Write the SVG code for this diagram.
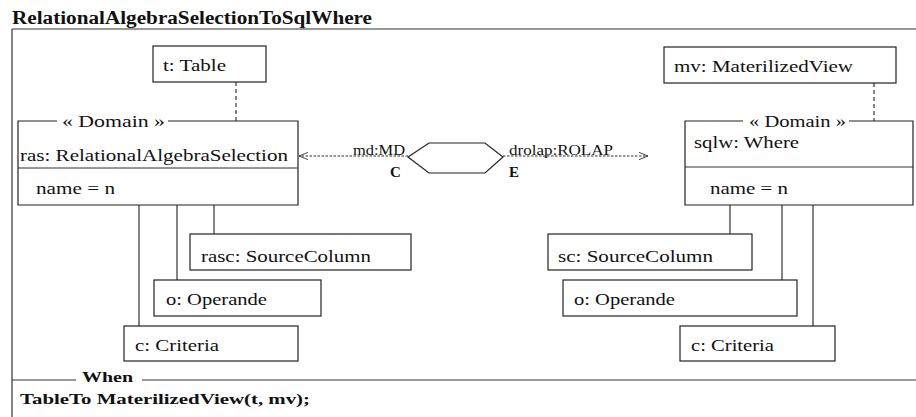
<svg xmlns="http://www.w3.org/2000/svg" width="916" height="417" viewBox="0 0 916 417">
<defs>
<style>
.t{font-family:"Liberation Serif","Times New Roman",serif;font-size:17px;fill:#111}
.b{font-family:"Liberation Serif","Times New Roman",serif;font-weight:bold;fill:#111}
.s{font-family:"Liberation Serif","Times New Roman",serif;font-size:15px;fill:#111}
.box{fill:#fff;stroke:#222;stroke-width:1.2}
.ln{fill:none;stroke:#333;stroke-width:1.2}
.dash{fill:none;stroke:#333;stroke-width:1.2;stroke-dasharray:4,3}
.dot{fill:none;stroke:#333;stroke-width:1;stroke-dasharray:2.5,1.5}
.arr{fill:none;stroke:#333;stroke-width:1}
</style>
<marker id="open" viewBox="0 0 10 10" refX="10" refY="5" markerWidth="9" markerHeight="9" orient="auto-start-reverse" markerUnits="userSpaceOnUse">
<path d="M0,1 L10,5 L0,9" class="arr"/>
</marker>
</defs>
<rect width="916" height="417" fill="#fff"/>
<g id="frame">
<text class="b" x="12" y="24" font-size="18" textLength="360" lengthAdjust="spacingAndGlyphs">RelationalAlgebraSelectionToSqlWhere</text>
<path class="ln" d="M12,29 H916 M12,29 V417"/>
<path class="ln" d="M12,380 H76 M142,380 H916"/>
<text class="b" x="82" y="382" font-size="14" textLength="51" lengthAdjust="spacingAndGlyphs">When</text>
<text class="b" x="20" y="404" font-size="15" textLength="290" lengthAdjust="spacingAndGlyphs">TableTo MaterilizedView(t, mv);</text>
</g>
<g id="connectors">
<path class="dash" d="M236,82 V121"/>
<path class="dash" d="M874,83 V121"/>
<path class="ln" d="M214,205 V234 M177,205 V280 M139,205 V326"/>
<path class="ln" d="M730,205 V234 M782,205 V280 M813,205 V326"/>
<path class="dot" d="M408,156 H299" marker-end="url(#open)"/>
<path class="dot" d="M503,156 H648" marker-end="url(#open)"/>
<text class="s" x="353" y="155" textLength="52" lengthAdjust="spacingAndGlyphs">md:MD</text>
<text class="s" x="509" y="155" textLength="104" lengthAdjust="spacingAndGlyphs">drolap:ROLAP</text>
</g>
<g id="hexagon">
<polygon class="box" points="408,157 429,143 485,143 503,157 485,173 429,173"/>
<text class="b" x="390" y="177" font-size="15">C</text>
<text class="b" x="509" y="177" font-size="15">E</text>
</g>
<g id="table">
<rect class="box" x="153" y="46" width="113" height="36"/>
<text class="t" x="163" y="71" textLength="63" lengthAdjust="spacingAndGlyphs">t: Table</text>
</g>
<g id="mv">
<rect class="box" x="664" y="47" width="232" height="36"/>
<text class="t" x="674" y="72" textLength="179" lengthAdjust="spacingAndGlyphs">mv: MaterilizedView</text>
</g>
<g id="ras">
<path class="box" d="M57,121 H18 V205 H298 V121 H168"/>
<path class="ln" d="M18,168 H298"/>
<text class="t" x="62" y="127" textLength="103" lengthAdjust="spacingAndGlyphs">« Domain »</text>
<text class="t" x="20" y="161" textLength="268" lengthAdjust="spacingAndGlyphs">ras: RelationalAlgebraSelection</text>
<text class="t" x="36" y="194" textLength="79" lengthAdjust="spacingAndGlyphs">name = n</text>
</g>
<g id="sqlw">
<path class="box" d="M743,121 H685 V205 H913 V121 H849"/>
<path class="ln" d="M685,167 H913"/>
<text class="t" x="749" y="127" textLength="97" lengthAdjust="spacingAndGlyphs">« Domain »</text>
<text class="t" x="694" y="148" textLength="105" lengthAdjust="spacingAndGlyphs">sqlw: Where</text>
<text class="t" x="710" y="194" textLength="78" lengthAdjust="spacingAndGlyphs">name = n</text>
</g>
<g id="rasc">
<rect class="box" x="190" y="234" width="221" height="36"/>
<text class="t" x="201" y="262" textLength="170" lengthAdjust="spacingAndGlyphs">rasc: SourceColumn</text>
</g>
<g id="o-left">
<rect class="box" x="154" y="280" width="167" height="36"/>
<text class="t" x="166" y="305" textLength="101" lengthAdjust="spacingAndGlyphs">o: Operande</text>
</g>
<g id="c-left">
<rect class="box" x="124" y="326" width="174" height="35"/>
<text class="t" x="135" y="351" textLength="84" lengthAdjust="spacingAndGlyphs">c: Criteria</text>
</g>
<g id="sc">
<rect class="box" x="548" y="234" width="204" height="36"/>
<text class="t" x="558" y="262" textLength="155" lengthAdjust="spacingAndGlyphs">sc: SourceColumn</text>
</g>
<g id="o-right">
<rect class="box" x="563" y="280" width="234" height="36"/>
<text class="t" x="574" y="305" textLength="101" lengthAdjust="spacingAndGlyphs">o: Operande</text>
</g>
<g id="c-right">
<rect class="box" x="680" y="326" width="155" height="35"/>
<text class="t" x="691" y="351" textLength="83" lengthAdjust="spacingAndGlyphs">c: Criteria</text>
</g>
</svg>
